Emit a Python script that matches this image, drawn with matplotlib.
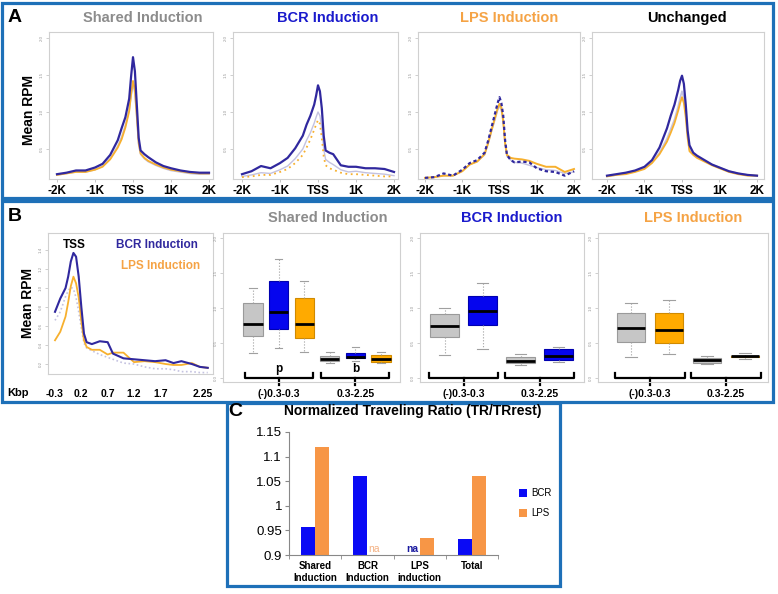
import matplotlib
matplotlib.use("Agg")
import matplotlib.pyplot as plt
from matplotlib.patches import Rectangle

W, H = 778, 594
plt.rcParams["font.family"] = ["Liberation Sans", "DejaVu Sans"]

# ---------- panel A: mean RPM around the TSS (bp) ----------
A_X = [-2000, -1750, -1500, -1250, -1000, -800, -600, -400, -300, -200, -100, -50, 0,
       50, 100, 150, 200, 300, 400, 600, 800, 1000, 1250, 1500, 1750, 2000]

SHARED_BCR = [0.16, 0.18, 0.21, 0.21, 0.25, 0.30, 0.42, 0.62, 0.78, 0.93, 1.18, 1.48, 1.74,
              1.55, 1.10, 0.65, 0.48, 0.43, 0.39, 0.32, 0.27, 0.24, 0.21, 0.19, 0.18, 0.18]
SHARED_LPS = [0.15, 0.17, 0.19, 0.19, 0.22, 0.26, 0.36, 0.52, 0.63, 0.79, 1.01, 1.24, 1.42,
              1.30, 0.95, 0.58, 0.44, 0.38, 0.34, 0.29, 0.25, 0.22, 0.20, 0.18, 0.17, 0.17]
SHARED_CTL = [0.15, 0.17, 0.19, 0.19, 0.22, 0.27, 0.37, 0.54, 0.66, 0.82, 1.03, 1.22, 1.38,
              1.26, 0.92, 0.56, 0.43, 0.37, 0.33, 0.28, 0.24, 0.21, 0.19, 0.17, 0.16, 0.16]

BCRIND_BCR = [0.16, 0.20, 0.27, 0.24, 0.31, 0.38, 0.51, 0.68, 0.83, 0.95, 1.10, 1.22, 1.36,
              1.28, 1.05, 0.68, 0.48, 0.45, 0.43, 0.28, 0.26, 0.26, 0.24, 0.24, 0.23, 0.19]
BCRIND_LPS = [0.12, 0.13, 0.15, 0.15, 0.19, 0.23, 0.31, 0.42, 0.52, 0.63, 0.76, 0.83, 0.89,
              0.84, 0.65, 0.40, 0.28, 0.24, 0.22, 0.18, 0.16, 0.16, 0.15, 0.14, 0.13, 0.13]
BCRIND_CTL = [0.13, 0.15, 0.18, 0.17, 0.22, 0.27, 0.37, 0.50, 0.62, 0.72, 0.85, 0.93, 1.00,
              0.95, 0.78, 0.50, 0.36, 0.32, 0.29, 0.22, 0.19, 0.20, 0.18, 0.17, 0.16, 0.14]

LPSIND_BCR = [0.11, 0.12, 0.17, 0.14, 0.22, 0.31, 0.35, 0.45, 0.62, 0.82, 1.02, 1.12, 1.20,
              1.12, 0.95, 0.62, 0.42, 0.35, 0.32, 0.33, 0.32, 0.24, 0.20, 0.19, 0.14, 0.20]
LPSIND_LPS = [0.11, 0.12, 0.14, 0.14, 0.20, 0.29, 0.33, 0.43, 0.59, 0.78, 0.96, 1.05, 1.11,
              1.06, 0.88, 0.58, 0.42, 0.38, 0.37, 0.36, 0.34, 0.30, 0.26, 0.26, 0.19, 0.23]
LPSIND_CTL = [0.11, 0.12, 0.14, 0.14, 0.20, 0.29, 0.33, 0.42, 0.58, 0.76, 0.93, 1.02, 1.08,
              1.02, 0.85, 0.56, 0.40, 0.35, 0.32, 0.31, 0.28, 0.25, 0.22, 0.21, 0.17, 0.19]

UNCH_BCR = [0.14, 0.16, 0.18, 0.21, 0.26, 0.35, 0.52, 0.78, 0.95, 1.10, 1.30, 1.42, 1.49,
            1.38, 1.10, 0.75, 0.55, 0.45, 0.41, 0.35, 0.29, 0.25, 0.20, 0.17, 0.15, 0.14]
UNCH_LPS = [0.13, 0.15, 0.16, 0.19, 0.23, 0.31, 0.43, 0.60, 0.72, 0.85, 1.02, 1.12, 1.20,
            1.12, 0.93, 0.65, 0.47, 0.42, 0.38, 0.33, 0.28, 0.24, 0.19, 0.16, 0.14, 0.14]
UNCH_CTL = [0.13, 0.15, 0.17, 0.20, 0.24, 0.32, 0.45, 0.64, 0.77, 0.90, 1.08, 1.19, 1.28,
            1.19, 0.98, 0.68, 0.49, 0.43, 0.39, 0.34, 0.29, 0.25, 0.20, 0.17, 0.15, 0.14]

A_TITLES = ["Shared Induction", "BCR Induction", "LPS Induction", "Unchanged"]
A_XTICKS = [-2000, -1000, 0, 1000, 2000]
A_XLABELS = ["-2K", "-1K", "TSS", "1K", "2K"]

# ---------- panel B: profile from -0.3 to 2.25 kbp ----------
B_X = [-0.3, -0.2, -0.1, -0.05, 0.0, 0.05, 0.1, 0.15, 0.2, 0.25, 0.3, 0.4, 0.55, 0.7, 0.8,
       1.0, 1.2, 1.4, 1.6, 1.8, 1.95, 2.1, 2.3, 2.45, 2.6]
B_BCR = [0.75, 0.89, 1.00, 1.12, 1.28, 1.37, 1.33, 1.12, 0.80, 0.52, 0.43, 0.41, 0.44, 0.43,
         0.31, 0.26, 0.25, 0.24, 0.23, 0.24, 0.21, 0.23, 0.20, 0.17, 0.16]
B_LPS = [0.45, 0.54, 0.70, 0.85, 1.02, 1.12, 1.05, 0.90, 0.65, 0.45, 0.38, 0.35, 0.35, 0.30,
         0.32, 0.32, 0.22, 0.23, 0.22, 0.20, 0.19, 0.19, 0.21, 0.17, 0.16]
B_CTL = [0.66, 0.75, 0.91, 0.97, 1.01, 0.99, 0.90, 0.75, 0.58, 0.42, 0.37, 0.34, 0.30, 0.27,
         0.25, 0.21, 0.20, 0.17, 0.15, 0.15, 0.14, 0.12, 0.12, 0.11, 0.11]
B_XTICKS = [-0.3, 0.2, 0.7, 1.2, 1.7, 2.5]
B_XLABELS = ["-0.3", "0.2", "0.7", "1.2", "1.7", "2.25"]

# box stats: (lower whisker, q1, median, q3, upper whisker)
BOX_SHARED = [(0.36, 0.60, 0.77, 1.07, 1.29), (0.43, 0.70, 0.94, 1.39, 1.70),
              (0.37, 0.57, 0.77, 1.14, 1.39), (0.22, 0.24, 0.27, 0.31, 0.37),
              (0.24, 0.28, 0.30, 0.36, 0.44), (0.21, 0.23, 0.27, 0.33, 0.37)]
BOX_BCR = [(0.33, 0.59, 0.74, 0.91, 1.00), (0.42, 0.75, 0.95, 1.17, 1.35),
           (0.18, 0.21, 0.245, 0.30, 0.34), (0.23, 0.26, 0.31, 0.41, 0.44)]
BOX_LPS = [(0.30, 0.51, 0.71, 0.93, 1.07), (0.34, 0.50, 0.68, 0.93, 1.11),
           (0.20, 0.22, 0.25, 0.28, 0.31), (0.27, 0.30, 0.31, 0.32, 0.35)]
RANGES = ["(-)0.3-0.3", "0.3-2.25"]

# ---------- panel C: normalized traveling ratio ----------
C_CATS = ["Shared\nInduction", "BCR\nInduction", "LPS\ninduction", "Total"]
C_BCR = [0.957, 1.06, float("nan"), 0.933]
C_LPS = [1.12, float("nan"), 0.934, 1.06]

NAVY = "#30289e"
GOLD = "#f7b02e"
LAV = "#c4c2e0"
FRAME = "#1e70b8"


def box(l, t, r, b):
    return [l / W, 1 - b / H, (r - l) / W, (b - t) / H]


def ftext(x, y, s, **kw):
    fig.text(x / W, 1 - y / H, s, ha="center", va="center", **kw)


def tiny_y(ax, ticks):
    ax.set_yticks(ticks)
    ax.set_yticklabels([f"{t:.1f}" for t in ticks], fontsize=3.2, color="#999999",
                       rotation=90, va="center")
    ax.tick_params(axis="y", length=2, width=0.5, color="#bbbbbb", pad=1.5)
    for s in ax.spines.values():
        s.set_color("#d0d0d0")
        s.set_linewidth(0.8)


fig = plt.figure(figsize=(W / 100, H / 100), dpi=100)

# frames
for l, t, r, b in [(2, 3, 773, 198), (2, 201, 773, 402), (227, 403, 560, 586)]:
    fig.patches.append(Rectangle((l / W, 1 - b / H), (r - l) / W, (b - t) / H,
                                 transform=fig.transFigure, fill=False, ec=FRAME, lw=2.3))

# ---- A ----
a_boxes = [(49, 32, 213, 179), (233, 32, 398, 179), (418, 32, 580, 179), (592, 32, 764, 179)]
a_xlims = [(-2210, 2105), (-2237, 2105), (-2188, 2161), (-2400, 2187)]
a_title_x = [143, 328, 509, 687]
a_title_c = ["#8c8c8c", "#1a1acc", "#f5a345", "black"]
a_series = [(SHARED_CTL, SHARED_LPS, SHARED_BCR), (BCRIND_CTL, BCRIND_LPS, BCRIND_BCR),
            (LPSIND_CTL, LPSIND_LPS, LPSIND_BCR), (UNCH_CTL, UNCH_LPS, UNCH_BCR)]
for i, (bx, xl, (ctl, lps, bcr)) in enumerate(zip(a_boxes, a_xlims, a_series)):
    ax = fig.add_axes(box(*bx))
    if i == 1:
        ax.plot(A_X, ctl, color=LAV, lw=1.0)
        ax.plot(A_X, lps, color=GOLD, lw=1.3, ls=(0, (1, 2)))
        ax.plot(A_X, bcr, color=NAVY, lw=1.6)
    elif i == 2:
        ax.plot(A_X, ctl, color=LAV, lw=1.0)
        ax.plot(A_X, lps, color=GOLD, lw=1.4)
        ax.plot(A_X, bcr, color=NAVY, lw=1.6, ls=(0, (1.5, 1.2)))
    else:
        ax.plot(A_X, ctl, color=LAV, lw=1.2)
        ax.plot(A_X, lps, color=GOLD, lw=1.3)
        ax.plot(A_X, bcr, color=NAVY, lw=1.6)
    ax.set_xlim(*xl)
    ax.set_ylim(0.095, 2.08)
    tiny_y(ax, [0.5, 1.0, 1.5, 2.0])
    ax.set_xticks(A_XTICKS)
    ax.set_xticklabels(A_XLABELS, fontsize=8.5, fontweight="bold")
    ax.tick_params(axis="x", length=2.5, width=0.6, color="#bbbbbb", pad=2)
    ftext(a_title_x[i], 18, A_TITLES[i], fontsize=10.5, fontweight="bold", color=a_title_c[i])

ftext(15, 17, "A", fontsize=14, fontweight="bold")
ftext(29, 110, "Mean RPM", fontsize=10, fontweight="bold", rotation=90)

# ---- B line ----
ax = fig.add_axes(box(48, 233, 213, 374))
ax.plot(B_X, B_CTL, color=LAV, lw=1.2, ls=(0, (1, 1.5)))
ax.plot(B_X, B_LPS, color=GOLD, lw=1.3)
ax.plot(B_X, B_BCR, color=NAVY, lw=1.5)
ax.set_xlim(-0.433, 2.70)
ax.set_ylim(0.095, 1.58)
tiny_y(ax, [0.2, 0.4, 0.6, 0.8, 1.0, 1.2, 1.4])
ax.set_xticks(B_XTICKS)
ax.set_xticklabels(B_XLABELS, fontsize=7.5, fontweight="bold")
ax.tick_params(axis="x", length=0, pad=11)
ax.text(0.06, 1.45, "TSS", fontsize=8.5, fontweight="bold", ha="center", va="center")
ax.text(1.64, 1.45, "BCR Induction", fontsize=8.5, fontweight="bold", color=NAVY,
        ha="center", va="center")
ax.text(1.70, 1.23, "LPS Induction", fontsize=8.5, fontweight="bold", color="#f5a345",
        ha="center", va="center")
ftext(15, 217, "B", fontsize=14, fontweight="bold")
ftext(28, 303, "Mean RPM", fontsize=10, fontweight="bold", rotation=90)
ftext(18, 393, "Kbp", fontsize=8, fontweight="bold")

# ---- B boxplots ----
GREY_F, GREY_E = "#c6c6c6", "#9a9a9a"
BLUE_F, BLUE_E = "#0505ee", "#0000b0"
ORNG_F, ORNG_E = "#ffaa00", "#d08a00"


def boxpanel(bx, xlim, stats, fills, edges, half, title, tcol, tx, marks=None):
    ax = fig.add_axes(box(*bx))
    data = [dict(whislo=s[0], q1=s[1], med=s[2], q3=s[3], whishi=s[4]) for s in stats]
    bp = ax.bxp(data, positions=range(1, len(data) + 1), widths=0.75, capwidths=0.3,
                patch_artist=True, showfliers=False,
                medianprops=dict(color="black", lw=2),
                whiskerprops=dict(color="#a0a0a0", lw=0.8, ls=":"),
                capprops=dict(color="#a0a0a0", lw=0.8))
    for p, fc, ec in zip(bp["boxes"], fills, edges):
        p.set_facecolor(fc)
        p.set_edgecolor(ec)
        p.set_linewidth(0.8)
    ax.set_xlim(*xlim)
    ax.set_ylim(-0.057, 2.07)
    tiny_y(ax, [0.0, 0.5, 1.0, 1.5, 2.0])
    ax.set_xticks([])
    n = len(data) // 2
    tr = ax.get_xaxis_transform()
    for g in range(2):
        c = (1 + n * g + n * (g + 1)) / 2
        ax.plot([c - half, c - half, c + half, c + half], [0.06, 0.027, 0.027, 0.06],
                color="black", lw=1.6, transform=tr, clip_on=False)
        ax.plot([c, c], [0.027, -0.02], color="black", lw=1.6, transform=tr, clip_on=False)
        ax.text(c, -0.08, RANGES[g], fontsize=7.5, fontweight="bold", ha="center",
                va="center", transform=tr)
        if marks:
            ax.text(c, 0.085, marks[g], fontsize=8.5, fontweight="bold", ha="center",
                    va="center", transform=tr)
    ftext(tx, 218, title, fontsize=10.5, fontweight="bold", color=tcol)


boxpanel((223, 233, 400, 382), (-0.17, 6.74), BOX_SHARED,
         [GREY_F, BLUE_F, ORNG_F] * 2, [GREY_E, BLUE_E, ORNG_E] * 2, 1.33,
         "Shared Induction", "#8c8c8c", 328, marks=["p", "b"])
boxpanel((420, 233, 584, 382), (0.355, 4.67), BOX_BCR,
         [GREY_F, BLUE_F] * 2, [GREY_E, BLUE_E] * 2, 0.9,
         "BCR Induction", "#1a1acc", 512)
boxpanel((598, 233, 768, 382), (0.13, 4.6), BOX_LPS,
         [GREY_F, ORNG_F] * 2, [GREY_E, ORNG_E] * 2, 0.92,
         "LPS Induction", "#f5a345", 693)

# ---- C ----
ax = fig.add_axes(box(289, 432, 498, 555))
xs = list(range(len(C_CATS)))
bw = 0.27
ax.bar([x - bw / 2 for x in xs], C_BCR, width=bw, bottom=0, color="#0a0af5", label="BCR")
ax.bar([x + bw / 2 for x in xs], C_LPS, width=bw, bottom=0, color="#f79646", label="LPS")
for x, vb, vl in zip(xs, C_BCR, C_LPS):
    if vb != vb:
        ax.text(x - bw / 2, 0.912, "na", color="#1a1aa0", fontsize=7.5, fontweight="bold",
                ha="center", va="center")
    if vl != vl:
        ax.text(x + bw / 2, 0.912, "na", color="#f4b183", fontsize=7.5, ha="center",
                va="center")
ax.set_xlim(-0.5, len(C_CATS) - 0.5)
ax.set_ylim(0.9, 1.15)
ax.set_yticks([0.9, 0.95, 1.0, 1.05, 1.1, 1.15])
ax.set_yticklabels(["0.9", "0.95", "1", "1.05", "1.1", "1.15"], fontsize=9.5)
ax.set_xticks(xs)
ax.set_xticklabels(C_CATS, fontsize=7, fontweight="bold", linespacing=1.3)
ax.set_xticks([x - 0.5 for x in range(len(C_CATS) + 1)], minor=True)
ax.tick_params(axis="x", which="major", length=0, pad=4)
ax.tick_params(axis="x", which="minor", length=3, color="#888888")
ax.tick_params(axis="y", length=3, color="#888888", pad=2)
for s in ["top", "right"]:
    ax.spines[s].set_visible(False)
for s in ["left", "bottom"]:
    ax.spines[s].set_color("#888888")
    ax.spines[s].set_linewidth(0.8)
ax.legend(loc="center left", bbox_to_anchor=(1.06, 0.42), frameon=False, fontsize=7,
          handlelength=0.8, handleheight=0.8, handletextpad=0.4, labelspacing=1.0)
ftext(235, 412, "C", fontsize=14, fontweight="bold")
ftext(413, 411, "Normalized Traveling Ratio (TR/TRrest)", fontsize=10, fontweight="bold")

fig.savefig("out.png", dpi=100)
